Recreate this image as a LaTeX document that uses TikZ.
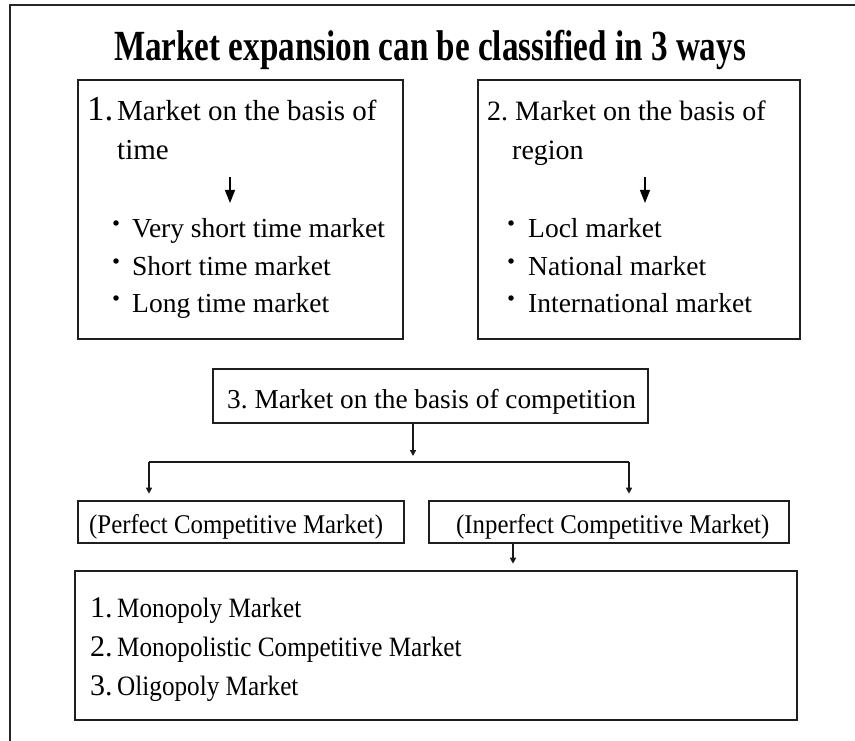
\documentclass[tikz,border=0pt]{standalone}
\usepackage{fontspec}
\usepackage{graphicx}
\setmainfont{Liberation Serif}
\usetikzlibrary{arrows.meta}
\newcommand{\cnd}[1]{\scalebox{0.92}[1]{#1}}
\tikzset{
  boxshape/.style={draw=black!88, line width=2.6pt, minimum width=#1, inner sep=0pt},
  txt/.style={anchor=base west, inner sep=0pt, font=\fontsize{28}{28}\selectfont},
  lowtxt/.style={anchor=base west, inner sep=0pt, font=\fontsize{27}{27}\selectfont},
  numtxt/.style={anchor=base west, inner sep=0pt, font=\fontsize{30}{30}\selectfont},
  conn/.style={draw=black!90, line width=1.9pt},
  smallarr/.style={conn, -{Triangle[length=6pt,width=6pt]}, shorten >=6pt},
  bigarr/.style={draw=black, line width=1.4pt, -{Triangle[length=13pt,width=10pt]}},
  dot/.style={circle, fill=black, inner sep=0pt, minimum size=5.5pt}
}
\begin{document}
\begin{tikzpicture}[x=1pt,y=-1pt]
\useasboundingbox (0,0) rectangle (855,741);
% outer frame
\coordinate (fa) at (10,741);
\coordinate (fb) at (10,5);
\coordinate (fc) at (855,5);
\draw[draw=black!85, line width=2.6pt] (fa) -- (fb) -- (fc);

% title
\node[anchor=base, inner sep=0pt, font=\bfseries\fontsize{43}{43}\selectfont] (title) at (430,61)
  {\scalebox{0.77}[1]{Market expansion can be classified in 3 ways}};

% box 1
\node[boxshape=325pt, minimum height=259pt] (b1) at (240.5,209.5) {};
\node[anchor=base west, inner sep=0pt, font=\fontsize{35}{35}\selectfont] (b1n) at (87,121) {1.};
\node[txt, font=\fontsize{29}{29}\selectfont] (b1l1) at (117,121) {Market on the basis of};
\node[txt, font=\fontsize{29}{29}\selectfont] (b1l2) at (117,160) {time};
\coordinate (a1s) at (230,177);
\coordinate (a1e) at (230,203);
\draw[bigarr] (a1s) -- (a1e);
\node[dot] (d11) at (116,223) {};
\node[dot] (d12) at (116,261) {};
\node[dot] (d13) at (116,298) {};
\node[txt, font=\fontsize{27.5}{27.5}\selectfont] (t11) at (132,237) {Very short time market};
\node[txt, font=\fontsize{27.5}{27.5}\selectfont] (t12) at (132,275) {Short time market};
\node[txt, font=\fontsize{27.5}{27.5}\selectfont] (t13) at (132,312) {Long time market};

% box 2
\node[boxshape=322pt, minimum height=259pt] (b2) at (639,209.5) {};
\node[txt] (b2l1) at (487,121) {2.\ Market on the basis of};
\node[txt] (b2l2) at (512,160) {region};
\coordinate (a2s) at (645,177);
\coordinate (a2e) at (645,203);
\draw[bigarr] (a2s) -- (a2e);
\node[dot] (d21) at (511,223) {};
\node[dot] (d22) at (511,261) {};
\node[dot] (d23) at (511,298) {};
\node[txt, font=\fontsize{27.5}{27.5}\selectfont] (t21) at (528,237) {Locl market};
\node[txt, font=\fontsize{27.5}{27.5}\selectfont] (t22) at (528,275) {National market};
\node[txt, font=\fontsize{27.5}{27.5}\selectfont] (t23) at (528,312) {International market};

% box 3
\node[boxshape=435pt, minimum height=54pt] (b3) at (430.5,396) {};
\node[txt, font=\fontsize{27.3}{27.3}\selectfont] (b3t) at (227,408) {3.\ Market on the basis of competition};

% perfect / imperfect
\node[boxshape=326pt, minimum height=42pt] (pb) at (241,522) {};
\node[lowtxt] (pbt) at (89,533) {\cnd{(Perfect Competitive Market)}};
\node[boxshape=360pt, minimum height=42pt] (ib) at (609,522) {};
\node[lowtxt] (ibt) at (456,533) {\cnd{(Inperfect Competitive Market)}};

% bottom box
\node[boxshape=722pt, minimum height=149pt] (bb) at (436,645.5) {};
\node[numtxt] (n1) at (90,617) {1.};
\node[numtxt] (n2) at (90,656) {2.};
\node[numtxt] (n3) at (90,695) {3.};
\node[lowtxt, font=\fontsize{28}{28}\selectfont] (m1) at (117,617) {\scalebox{0.9}[1]{Monopoly Market}};
\node[lowtxt, font=\fontsize{28}{28}\selectfont] (m2) at (117,656) {\scalebox{0.9}[1]{Monopolistic Competitive Market}};
\node[lowtxt, font=\fontsize{28}{28}\selectfont] (m3) at (117,695) {\scalebox{0.9}[1]{Oligopoly Market}};

% connectors
\coordinate (j) at (413,462);
\coordinate (jl) at (149,462);
\coordinate (jr) at (629,462);
\coordinate (k) at (513,543);
\draw[smallarr] (j |- b3.south) -- (j);
\draw[conn] (jl) -- (jr);
\draw[smallarr] (jl) -- (jl |- pb.north);
\draw[smallarr] (jr) -- (jr |- ib.north);
\draw[smallarr] (k |- ib.south) -- (k |- bb.north);
\end{tikzpicture}
\end{document}
